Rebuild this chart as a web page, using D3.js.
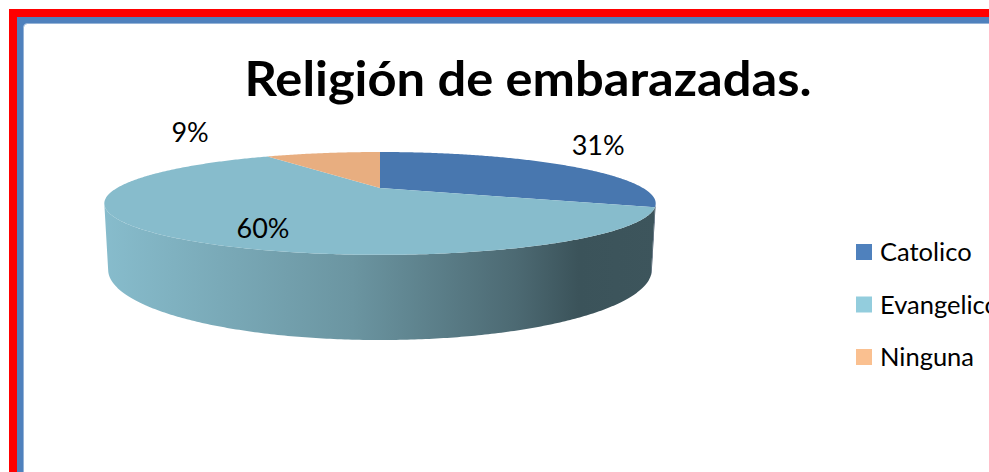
<!DOCTYPE html>
<html>
<head>
<meta charset="utf-8">
<script src="https://cdn.jsdelivr.net/npm/d3@7"></script>
<style>
  body { margin: 0; background: #fff; overflow: hidden; }
  svg { display: block; }
</style>
</head>
<body>
<script>
// pie data
var categories = ["Catolico", "Evangelico", "Ninguna"];
var values = [31, 60, 9];
var labels = ["31%", "60%", "9%"];
var topColors = ["#4877AF", "#87BCCC", "#E8AE80"];
var legendColors = ["#4F81BD", "#93CDDD", "#FAC090"];

var width = 989, height = 472;

var svg = d3.select("body").append("svg")
    .attr("width", width)
    .attr("height", height);

// frame: red outer band, blue inner band with rounded inside corner
svg.append("rect").attr("x", 9).attr("y", 9).attr("width", 2000).attr("height", 2000).attr("fill", "#FF0000");
svg.append("rect").attr("x", 17).attr("y", 17).attr("width", 2000).attr("height", 2000).attr("fill", "#4F81BD");
svg.append("rect").attr("x", 23.5).attr("y", 23.5).attr("width", 2000).attr("height", 2000)
    .attr("rx", 4).attr("fill", "#fff").attr("stroke", "#95B3D7").attr("stroke-width", 1);

// title
svg.append("text")
    .attr("x", 528).attr("y", 96)
    .attr("text-anchor", "middle")
    .attr("font-family", "Lato, 'Open Sans', sans-serif")
    .attr("font-weight", "bold")
    .attr("font-size", 47)
    .attr("textLength", 567)
    .attr("lengthAdjust", "spacingAndGlyphs")
    .attr("fill", "#000")
    .text("Religión de embarazadas.");

// simple perspective camera for the 3D pie
var cx = 380, cy = 188;
var F = 862.6, D = 3.28;
var sa = 0.178, ca = Math.sqrt(1 - sa * sa);
var depth = 0.238;

function project(phi, r, yy) {
    var px = r * Math.sin(phi), py = yy, pz = -r * Math.cos(phi);
    var d = D + (-py * sa - pz * ca);
    var up = py * ca - pz * sa;
    return [cx + px * F / d, cy - up * F / d];
}

var pie = d3.pie().sort(null).value(function(d) { return d; });
var arcs = pie(values);
var line = d3.line();

function rimPoints(a0, a1, yy) {
    var n = Math.max(2, Math.ceil((a1 - a0) / 0.01));
    return d3.range(n + 1).map(function(i) { return project(a0 + (a1 - a0) * i / n, 1, yy); });
}

var defs = svg.append("defs");
var left = project(-Math.PI / 2 - 0.32, 1, 0)[0], right = project(Math.PI / 2 + 0.32, 1, 0)[0];

// side walls (only the front facing part)
var visA = Math.acos(-1 / (D * ca)), visB = 2 * Math.PI - visA;
arcs.forEach(function(a, i) {
    var a0 = Math.max(a.startAngle, visA), a1 = Math.min(a.endAngle, visB);
    if (a1 <= a0) return;
    var base = d3.rgb(topColors[i]);
    var g = defs.append("linearGradient").attr("id", "side" + i)
        .attr("gradientUnits", "userSpaceOnUse")
        .attr("x1", left).attr("x2", right).attr("y1", 0).attr("y2", 0);
    [[0, 1.0], [0.45, 0.79], [0.75, 0.56], [0.86, 0.44], [1, 0.45]].forEach(function(s) {
        var c = d3.rgb(base.r * s[1], base.g * s[1], base.b * s[1]);
        g.append("stop").attr("offset", s[0]).attr("stop-color", c.formatHex());
    });
    var pts = rimPoints(a0, a1, 0).concat(rimPoints(a0, a1, -depth).reverse());
    svg.append("path")
        .attr("d", line(pts) + "Z")
        .attr("fill", "url(#side" + i + ")");
});

// top faces
arcs.forEach(function(a, i) {
    var pts = [project(0, 0, 0)].concat(rimPoints(a.startAngle, a.endAngle, 0));
    svg.append("path")
        .attr("d", line(pts) + "Z")
        .attr("fill", topColors[i]);
});

// percentage labels, offset from the rim point at the slice middle
var nudge = [[32, -21], [101, -7], [-133, -22]];
arcs.forEach(function(a, i) {
    var mid = (a.startAngle + a.endAngle) / 2;
    var p = project(mid, 1, 0);
    svg.append("text")
        .attr("x", p[0] + nudge[i][0]).attr("y", p[1] + nudge[i][1])
        .attr("text-anchor", "middle")
        .attr("dominant-baseline", "central")
        .attr("font-family", "Lato, 'Open Sans', sans-serif")
        .attr("font-size", 27)
        .attr("fill", "#000")
        .text(labels[i]);
});

// legend
var legendY = d3.scalePoint().domain(categories).range([252, 357]);
var legend = svg.selectAll("g.leg").data(categories).enter().append("g")
    .attr("class", "leg")
    .attr("transform", function(d) { return "translate(856," + legendY(d) + ")"; });
legend.append("rect")
    .attr("x", 0).attr("y", -8).attr("width", 16).attr("height", 16)
    .attr("fill", function(d, i) { return legendColors[i]; });
legend.append("text")
    .attr("x", 24).attr("y", 9)
    .attr("font-family", "Lato, 'Open Sans', sans-serif")
    .attr("font-size", 25.5)
    .attr("fill", "#000")
    .text(function(d) { return d; });
</script>
</body>
</html>
